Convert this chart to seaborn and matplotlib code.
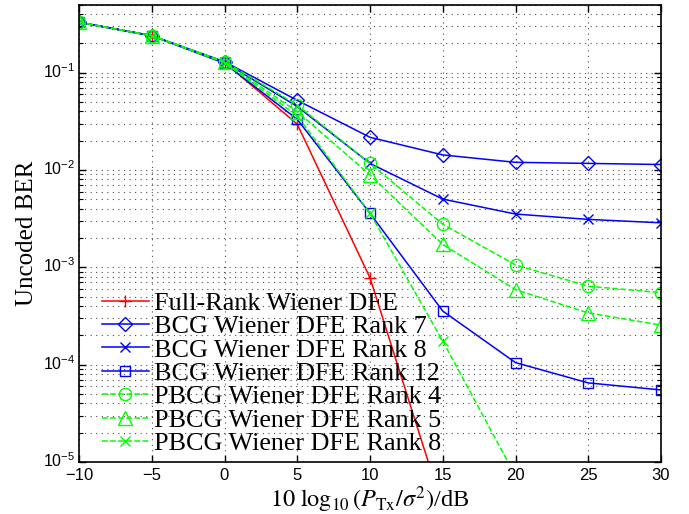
import numpy as np
import pandas as pd
import matplotlib
matplotlib.use("Agg")
import matplotlib.pyplot as plt
import matplotlib.ticker as mticker
import matplotlib.transforms as mtransforms
import seaborn as sns

# ---------------- data ----------------
snr_db = [-10, -5, 0, 5, 10, 15, 20, 25, 30]

full_rank = [0.33, 0.24, 0.128, 0.0296, 0.00078, 3.4e-6]
bcg_rank7 = [0.33, 0.24, 0.130, 0.052, 0.0217, 0.0143, 0.0120, 0.0117, 0.0114]
bcg_rank8 = [0.33, 0.24, 0.128, 0.045, 0.0117, 0.00503, 0.00353, 0.00311, 0.00287]
bcg_rank12 = [0.33, 0.24, 0.125, 0.0332, 0.00359, 0.000356, 0.000105, 6.5e-5, 5.5e-5]
pbcg_rank4 = [0.33, 0.24, 0.130, 0.0465, 0.0117, 0.00277, 0.00106, 0.00064, 0.00055]
pbcg_rank5 = [0.33, 0.24, 0.128, 0.0398, 0.0089, 0.00172, 0.00059, 0.00034, 0.000255]
pbcg_rank8 = [0.33, 0.24, 0.127, 0.036, 0.0036, 0.000175, 7.2e-6]

labels = ["Full-Rank Wiener DFE", "BCG Wiener DFE Rank 7", "BCG Wiener DFE Rank 8",
          "BCG Wiener DFE Rank 12", "PBCG Wiener DFE Rank 4", "PBCG Wiener DFE Rank 5",
          "PBCG Wiener DFE Rank 8"]
series = [full_rank, bcg_rank7, bcg_rank8, bcg_rank12, pbcg_rank4, pbcg_rank5, pbcg_rank8]

yticks = [1e-5, 1e-4, 1e-3, 1e-2, 1e-1]
xticks = [-10, -5, 0, 5, 10, 15, 20, 25, 30]

# ---------------- style ----------------
styles = [
    dict(color=(1, 0, 0), marker="+", ls="-", ms=9),
    dict(color=(0, 0, 1), marker="D", ls="-", ms=7.5),
    dict(color=(0, 0, 1), marker="x", ls="-", ms=6.5),
    dict(color=(0, 0, 1), marker="s", ls="-", ms=7.8),
    dict(color=(0, 1, 0), marker="o", ls="--", ms=8.8),
    dict(color=(0, 1, 0), marker="^", ls="--", ms=9.5),
    dict(color=(0, 1, 0), marker="x", ls="--", ms=6.5),
]

plt.rcParams["font.family"] = ["Liberation Serif", "DejaVu Serif"]
plt.rcParams["axes.unicode_minus"] = True

fig = plt.figure(figsize=(6.89, 5.14), dpi=100)
ax = fig.add_axes([79 / 689, 1 - 462 / 514, (661 - 79) / 689, (462 - 4.7) / 514])

for lab, vals, st in zip(labels, series, styles):
    df = pd.DataFrame({"snr": snr_db[:len(vals)], "ber": vals})
    sns.lineplot(data=df, x="snr", y="ber", ax=ax, color=st["color"],
                 marker=st["marker"], markersize=st["ms"], linestyle=st["ls"],
                 dashes=False if st["ls"] == "-" else (5, 3),
                 markerfacecolor="none", markeredgecolor=st["color"],
                 markeredgewidth=1.0, linewidth=1.1, label=lab, legend=False)

ax.set_yscale("log")
ax.set_xlim(-10, 30)
ax.set_ylim(1e-5, 0.5)
ax.set_xticks(xticks)
ax.set_yticks(yticks)
ax.yaxis.set_minor_locator(mticker.LogLocator(base=10, subs=np.arange(2, 10), numticks=20))
ax.yaxis.set_minor_formatter(mticker.NullFormatter())
ax.xaxis.set_minor_locator(mticker.NullLocator())

ax.grid(True, which="major", axis="both", linestyle=(0, (1, 4)), color="0.3", linewidth=0.8)
ax.grid(True, which="minor", axis="y", linestyle=(0, (1, 4)), color="0.3", linewidth=0.8)
ax.set_axisbelow(True)

ax.tick_params(which="both", direction="in", top=True, right=True)
ax.tick_params(which="major", length=5, width=1.0)
ax.tick_params(which="minor", length=3, width=0.8)
ax.tick_params(axis="x", pad=4.5, labelsize=12)
ax.tick_params(axis="y", pad=3, labelsize=11.5)
for lbl in ax.get_xticklabels() + ax.get_yticklabels():
    lbl.set_fontfamily("Liberation Sans")
up = mtransforms.ScaledTranslation(0, 2.0 / 72, fig.dpi_scale_trans)
for lbl in ax.get_yticklabels():
    lbl.set_transform(lbl.get_transform() + up)
for sp in ax.spines.values():
    sp.set_linewidth(1.2)

ax.set_xlabel(r"$10\ \log_{10}(P_{\mathrm{Tx}}/\sigma^2)$/dB", fontsize=17.5,
              math_fontfamily="stix", labelpad=0.5)
ax.set_ylabel("Uncoded BER", fontsize=18, labelpad=3)

leg = ax.legend(loc="lower left", bbox_to_anchor=(0.039, 0.015), frameon=False,
                fontsize=18.8, handlelength=1.8, handletextpad=0.2,
                labelspacing=0.005, borderpad=0, borderaxespad=0)

fig.savefig("out.png", dpi=100)
